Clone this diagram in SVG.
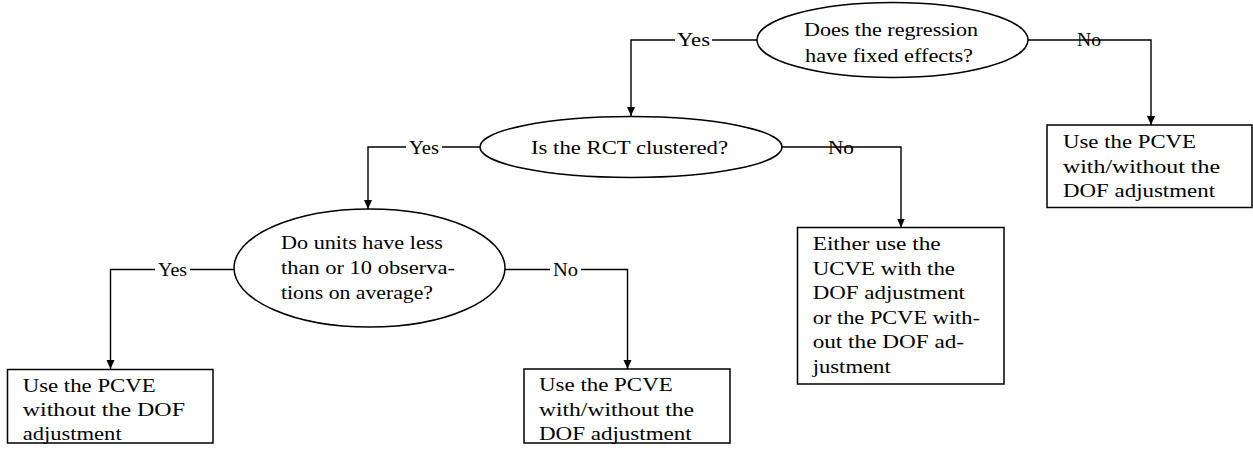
<svg xmlns="http://www.w3.org/2000/svg" width="1253" height="453" viewBox="0 0 1253 453">
<style>
.shape{fill:#fff;stroke:#000;stroke-width:1.5}
.conn{fill:none;stroke:#000;stroke-width:1.4}
.t{font-family:'Liberation Serif','Times New Roman',serif;font-size:19px;fill:#000}
</style>
<defs>
<marker id="arr" markerUnits="userSpaceOnUse" markerWidth="10" markerHeight="10" refX="9" refY="4" orient="auto">
<path d="M0,0 L9,4 L0,8 Z" fill="#000"/>
</marker>
</defs>
<rect width="1253" height="453" fill="#fff"/>
<g id="connectors">
<path class="conn" d="M757,40 H712 M675,40 H631 V116" marker-end="url(#arr)"/>
<path class="conn" d="M1028,40 H1104 M1074,40 H1151 V125" marker-end="url(#arr)"/>
<path class="conn" d="M480,147 H442 M406,147 H368 V209" marker-end="url(#arr)"/>
<path class="conn" d="M782,147 H857 M825,147 H901 V227.5" marker-end="url(#arr)"/>
<path class="conn" d="M234,269.5 H190 M155,269.5 H110.5 V369" marker-end="url(#arr)"/>
<path class="conn" d="M504,269.5 H550 M581,269.5 H627.5 V369" marker-end="url(#arr)"/>
<text class="t" x="677" y="46" textLength="33" lengthAdjust="spacingAndGlyphs">Yes</text>
<text class="t" x="1077" y="46" textLength="24" lengthAdjust="spacingAndGlyphs">No</text>
<text class="t" x="409" y="153.5" textLength="30" lengthAdjust="spacingAndGlyphs">Yes</text>
<text class="t" x="828" y="153.5" textLength="26" lengthAdjust="spacingAndGlyphs">No</text>
<text class="t" x="158" y="275.5" textLength="29" lengthAdjust="spacingAndGlyphs">Yes</text>
<text class="t" x="553" y="276" textLength="25" lengthAdjust="spacingAndGlyphs">No</text>
</g>
<g id="q1">
<ellipse class="shape" cx="892.5" cy="40" rx="135.5" ry="37.5"/>
<text class="t" x="804" y="36" textLength="174" lengthAdjust="spacingAndGlyphs">Does the regression</text>
<text class="t" x="805" y="62" textLength="168" lengthAdjust="spacingAndGlyphs">have fixed effects?</text>
</g>
<g id="q2">
<ellipse class="shape" cx="631" cy="147" rx="151" ry="30.5"/>
<text class="t" x="531" y="154" textLength="197" lengthAdjust="spacingAndGlyphs">Is the RCT clustered?</text>
</g>
<g id="q3">
<ellipse class="shape" cx="369.5" cy="268" rx="135.5" ry="59"/>
<text class="t" x="281" y="249" textLength="162" lengthAdjust="spacingAndGlyphs">Do units have less</text>
<text class="t" x="281" y="274" textLength="174" lengthAdjust="spacingAndGlyphs">than or 10 observa-</text>
<text class="t" x="281" y="299" textLength="152" lengthAdjust="spacingAndGlyphs">tions on average?</text>
</g>
<g id="r1">
<rect class="shape" x="1047" y="125" width="205" height="82.5"/>
<text class="t" x="1063" y="148" textLength="133" lengthAdjust="spacingAndGlyphs">Use the PCVE</text>
<text class="t" x="1063" y="172.5" textLength="157" lengthAdjust="spacingAndGlyphs">with/without the</text>
<text class="t" x="1063" y="197" textLength="152" lengthAdjust="spacingAndGlyphs">DOF adjustment</text>
</g>
<g id="r2">
<rect class="shape" x="797.5" y="227.5" width="206.5" height="156.5"/>
<text class="t" x="812.7" y="250" textLength="128" lengthAdjust="spacingAndGlyphs">Either use the</text>
<text class="t" x="812.7" y="274.5" textLength="142.3" lengthAdjust="spacingAndGlyphs">UCVE with the</text>
<text class="t" x="812.7" y="299" textLength="152.3" lengthAdjust="spacingAndGlyphs">DOF adjustment</text>
<text class="t" x="812.7" y="323.5" textLength="167.3" lengthAdjust="spacingAndGlyphs">or the PCVE with-</text>
<text class="t" x="812.7" y="348" textLength="151.3" lengthAdjust="spacingAndGlyphs">out the DOF ad-</text>
<text class="t" x="812.7" y="372.5" textLength="78" lengthAdjust="spacingAndGlyphs">justment</text>
</g>
<g id="r3">
<rect class="shape" x="7.5" y="369.5" width="205.5" height="73.5"/>
<text class="t" x="22.7" y="391.5" textLength="133" lengthAdjust="spacingAndGlyphs">Use the PCVE</text>
<text class="t" x="22.7" y="415.5" textLength="162.3" lengthAdjust="spacingAndGlyphs">without the DOF</text>
<text class="t" x="22.7" y="439.5" textLength="99" lengthAdjust="spacingAndGlyphs">adjustment</text>
</g>
<g id="r4">
<rect class="shape" x="524" y="369" width="206" height="74"/>
<text class="t" x="539" y="391" textLength="133.7" lengthAdjust="spacingAndGlyphs">Use the PCVE</text>
<text class="t" x="539" y="415.5" textLength="155" lengthAdjust="spacingAndGlyphs">with/without the</text>
<text class="t" x="539" y="439.5" textLength="152.7" lengthAdjust="spacingAndGlyphs">DOF adjustment</text>
</g>
</svg>
